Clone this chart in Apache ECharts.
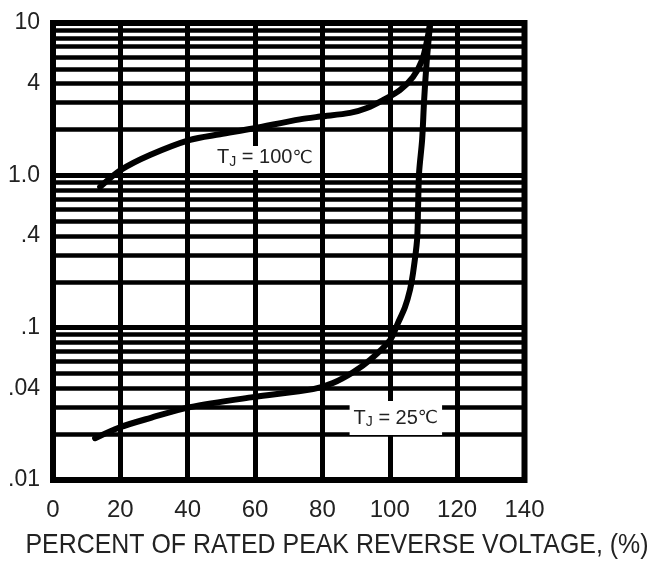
<!DOCTYPE html>
<html><head><meta charset="utf-8">
<script src="https://cdn.jsdelivr.net/npm/echarts@6/dist/echarts.min.js"></script>
<style>html,body{margin:0;padding:0;background:#fff}#c{width:652px;height:565px}</style>
</head><body><div id="c"></div>
<script>
// ---- data ----
const xMin = 0, xMax = 140, xStep = 20;
const yMin = 0.01, yMax = 10;
const yLabelValues = [0.01, 0.04, 0.1, 0.4, 1, 4, 10];
const yLabelTexts = ['.01', '.04', '.1', '.4', '1.0', '4', '10'];
const decades = [0.01, 0.1, 1];
const minorMultipliers = [2, 3, 4, 5, 6, 7, 8, 9];

const x100 = [14, 20, 28.8, 40.7, 49.6, 59.4, 73.3, 79.3, 88.2, 93.2, 98, 103, 106.9, 109.6, 111.1, 112];
const y100 = [0.84, 1.08, 1.36, 1.71, 1.86, 2.03, 2.33, 2.43, 2.57, 2.77, 3.12, 3.63, 4.42, 5.71, 7.73, 10];

const x25 = [12.5, 19.9, 28.8, 40.7, 59.4, 77.2, 83.1, 89.1, 94.1, 100.1, 102.4, 104.5, 106, 106.9, 108.1, 108.4, 108.7, 109.6, 110.2, 111, 112];
const y25 = [0.0188, 0.0222, 0.0255, 0.0301, 0.035, 0.0395, 0.0433, 0.051, 0.0613, 0.083, 0.107, 0.136, 0.177, 0.228, 0.376, 0.62, 1.04, 1.71, 3.12, 5.71, 10];

const label100Pos = [62.9, 1.30];
const label25Pos = [101.8, 0.0255];
const xTitle = 'PERCENT OF RATED PEAK REVERSE VOLTAGE, (%)';

// ---- build ----
const FONT = '"Liberation Sans", Arial, Helvetica, sans-serif';
const minorLines = [];
decades.forEach(d => minorMultipliers.forEach(m => minorLines.push({ yAxis: +(d * m).toPrecision(6) })));
const zip = (xs, ys) => xs.map((x, i) => [x, ys[i]]);

const rich = {
  t: { fontSize: 20, fontFamily: FONT, color: '#222', lineHeight: 22 },
  s: { fontSize: 14, fontFamily: FONT, color: '#222', padding: [8, 0, 0, 0], lineHeight: 22 },
  c: { fontSize: 18, fontFamily: '"DejaVu Sans", sans-serif', color: '#222', lineHeight: 22 }
};

const chart = echarts.init(document.getElementById('c'), null, { renderer: 'canvas' });
chart.setOption({
  animation: false,
  backgroundColor: '#fff',
  grid: { left: 53, right: 127.5, top: 23, bottom: 85, show: true, borderColor: '#000', borderWidth: 6, backgroundColor: 'transparent' },
  xAxis: {
    type: 'value', min: xMin, max: xMax, interval: xStep,
    axisLine: { show: false }, axisTick: { show: false },
    splitLine: { show: true, lineStyle: { color: '#000', width: 5 } },
    axisLabel: { fontSize: 24, fontFamily: FONT, color: '#222', margin: 18 }
  },
  yAxis: {
    type: 'log', logBase: 10, min: yMin, max: yMax,
    axisLine: { show: false }, axisTick: { show: false },
    splitLine: { show: true, lineStyle: { color: '#000', width: 5 } },
    axisLabel: {
      fontSize: 23, fontFamily: FONT, color: '#222', margin: 13,
      customValues: yLabelValues,
      formatter: v => {
        for (let i = 0; i < yLabelValues.length; i++) {
          if (Math.abs(Math.log10(v) - Math.log10(yLabelValues[i])) < 1e-6) return yLabelTexts[i];
        }
        return '';
      }
    }
  },
  series: [
    {
      type: 'line', data: [], z: 1, silent: true,
      markLine: {
        silent: true, symbol: ['none', 'none'], label: { show: false },
        lineStyle: { color: '#000', width: 4.5, type: 'solid' },
        data: minorLines, animation: false
      }
    },
    {
      type: 'line', name: 'TJ=100', data: zip(x100, y100), smooth: 0.3, symbol: 'none', z: 3,
      lineStyle: { color: '#000', width: 6, cap: 'round' },
      markPoint: {
        symbol: 'rect', symbolSize: 1, itemStyle: { color: 'rgba(0,0,0,0)' },
        label: { show: true, position: 'inside', backgroundColor: '#fff', padding: [1, 3, 1, 3],
          formatter: '{t|T}{s|J}{t| = 100}{c|℃}', rich: rich },
        data: [{ coord: label100Pos }]
      }
    },
    {
      type: 'line', name: 'TJ=25', data: zip(x25, y25), smooth: 0.3, symbol: 'none', z: 3,
      lineStyle: { color: '#000', width: 6, cap: 'round' },
      markPoint: {
        symbol: 'rect', symbolSize: 1, itemStyle: { color: 'rgba(0,0,0,0)' },
        label: { show: true, position: 'inside', backgroundColor: '#fff', padding: [6, 4, 6, 4],
          formatter: '{t|T}{s|J}{t| = 25}{c|℃}', rich: rich },
        data: [{ coord: label25Pos }]
      }
    }
  ],
  graphic: [{
    type: 'text', x: 337, y: 545, scaleX: 0.89,
    style: { text: xTitle, font: '28px ' + FONT, fill: '#222', textAlign: 'center', textVerticalAlign: 'middle' }
  }]
});
</script></body></html>
